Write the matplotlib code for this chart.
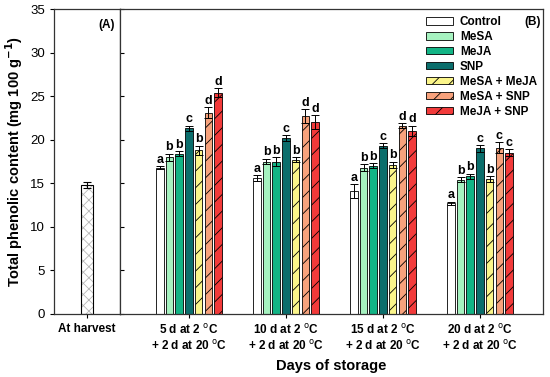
import matplotlib
matplotlib.use("Agg")
import matplotlib.pyplot as plt
import numpy as np

plt.rcParams['font.family'] = ['Liberation Sans', 'DejaVu Sans']
plt.rcParams['hatch.linewidth'] = 0.6

treatments = ["Control", "MeSA", "MeJA", "SNP", "MeSA + MeJA", "MeSA + SNP", "MeJA + SNP"]
groups = ["5 d at 2 $^{\\rm o}$C\n+ 2 d at 20 $^{\\rm o}$C",
          "10 d at 2 $^{\\rm o}$C\n+ 2 d at 20 $^{\\rm o}$C",
          "15 d at 2 $^{\\rm o}$C\n+ 2 d at 20 $^{\\rm o}$C",
          "20 d at 2 $^{\\rm o}$C\n+ 2 d at 20 $^{\\rm o}$C"]

harvest_value = 14.8
harvest_err = 0.3

# values[treatment][group]
control = [16.8, 15.6, 14.1, 12.7]
mesa = [18.0, 17.5, 16.8, 15.4]
meja = [18.4, 17.5, 17.0, 15.8]
snp = [21.3, 20.2, 19.3, 19.0]
mesa_meja = [18.8, 17.7, 17.1, 15.5]
mesa_snp = [23.1, 22.7, 21.6, 19.1]
meja_snp = [25.4, 22.0, 21.0, 18.5]

control_err = [0.15, 0.3, 0.8, 0.2]
mesa_err = [0.4, 0.3, 0.4, 0.3]
meja_err = [0.3, 0.5, 0.3, 0.3]
snp_err = [0.3, 0.3, 0.3, 0.4]
mesa_meja_err = [0.5, 0.3, 0.4, 0.3]
mesa_snp_err = [0.6, 0.8, 0.3, 0.6]
meja_snp_err = [0.5, 0.8, 0.6, 0.4]

control_lbl = ["a", "a", "a", "a"]
mesa_lbl = ["b", "b", "b", "b"]
meja_lbl = ["b", "b", "b", "b"]
snp_lbl = ["c", "c", "c", "c"]
mesa_meja_lbl = ["b", "b", "b", "b"]
mesa_snp_lbl = ["d", "d", "d", "c"]
meja_snp_lbl = ["d", "d", "d", "c"]

series = [control, mesa, meja, snp, mesa_meja, mesa_snp, meja_snp]
errs = [control_err, mesa_err, meja_err, snp_err, mesa_meja_err, mesa_snp_err, meja_snp_err]
lbls = [control_lbl, mesa_lbl, meja_lbl, snp_lbl, mesa_meja_lbl, mesa_snp_lbl, meja_snp_lbl]
colors = ["#ffffff", "#a6f2c0", "#12b485", "#0b6e6c", "#fbf58a", "#f7a27c", "#f23a3a"]
hatches = [None, None, None, None, "//", "//", "//"]

fig = plt.figure(figsize=(5.5, 3.77), dpi=100)
axA = fig.add_axes([54/550, 1-314/377, 66/550, 305/377])
axB = fig.add_axes([120/550, 1-314/377, 423/550, 305/377], sharey=axA)

# Panel A
axA.bar([0], [harvest_value], width=0.17, color="white", edgecolor="#b8b8b8", linewidth=0,
        hatch="xxx")
axA.bar([0], [harvest_value], width=0.17, color="none", edgecolor="black", linewidth=0.8,
        yerr=[harvest_err], error_kw=dict(ecolor="black", elinewidth=0.8, capsize=3, capthick=0.8))
axA.set_xlim(-0.5, 0.5)
axA.set_xticks([0])
axA.set_xticklabels(["At harvest"], fontsize=8.5, fontweight="bold")
axA.set_ylim(0, 35)
axA.set_yticks(np.arange(0, 36, 5))
axA.tick_params(axis='y', labelsize=9.5, direction='out', length=3)
axA.tick_params(axis='x', direction='out', length=3)
axA.set_ylabel("Total phenolic content (mg 100 g$^{\\mathbf{-1}}$)", fontsize=10.5, fontweight="bold")
axA.text(0.42, 33.8, "(A)", ha="right", va="top", fontsize=8.5, fontweight="bold")

# Panel B
x = np.arange(len(groups))
step = 0.1
width = 0.078
for i, (vals, e, lb, c, h, name) in enumerate(zip(series, errs, lbls, colors, hatches, treatments)):
    pos = x + (i - 3) * step
    axB.bar(pos, vals, width=width, color=c, edgecolor="black", linewidth=0.6, hatch=h, label=name,
            yerr=e, error_kw=dict(ecolor="black", elinewidth=0.7, capsize=3, capthick=0.7))
    for p, v, ee, t in zip(pos, vals, e, lb):
        axB.text(p, v + ee + 0.05, t, ha="center", va="bottom", fontsize=9, fontweight="bold")

axB.set_xlim(-0.71, 3.65)
axB.set_xticks(x)
axB.set_xticklabels(groups, fontsize=8.5, fontweight="bold")
axB.tick_params(axis='x', direction='out', length=3)
axB.tick_params(axis='y', direction='in', length=3, labelleft=False)
axB.set_xlabel("Days of storage", fontsize=10.5, fontweight="bold")
leg = axB.legend(loc="upper right", bbox_to_anchor=((537-120)/423, 1 - 7/305), frameon=False,
                 prop=dict(weight="bold", size=8.5), handlelength=2.3, handleheight=0.6,
                 labelspacing=0.25, borderaxespad=0, borderpad=0, handletextpad=0.6)
axB.text((541-120)/423, 1 - 13/305, "(B)", transform=axB.transAxes, ha="right", va="center",
         fontsize=8.5, fontweight="bold")

for ax in (axA, axB):
    for s in ax.spines.values():
        s.set_linewidth(0.9)
        s.set_color("#333333")

fig.savefig("out.png", dpi=100)
